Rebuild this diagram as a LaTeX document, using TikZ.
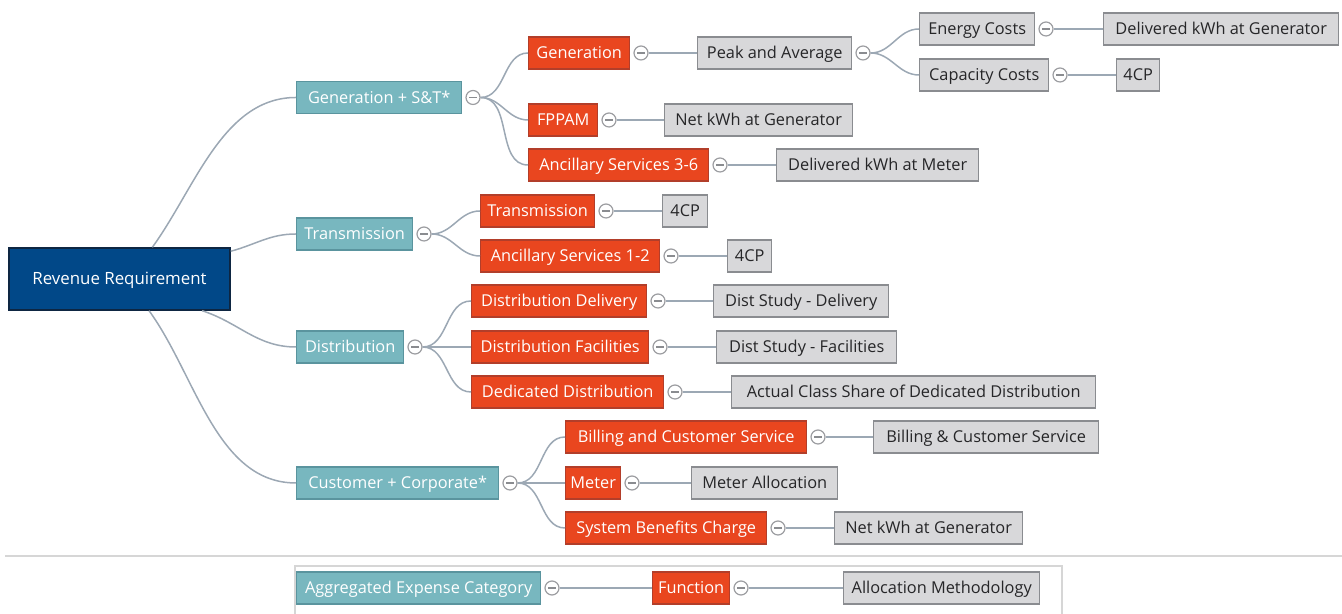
\documentclass[tikz,border=0pt]{standalone}
\usepackage{fontspec}
\setmainfont{Open Sans}
\usetikzlibrary{positioning}

\newlength\pu
\setlength\pu{0.02cm}

\definecolor{rootblue}{RGB}{1,72,136}
\definecolor{rootedge}{RGB}{14,38,66}
\definecolor{tealfill}{RGB}{120,183,191}
\definecolor{tealedge}{RGB}{90,148,158}
\definecolor{redfill}{RGB}{233,70,31}
\definecolor{rededge}{RGB}{178,62,42}
\definecolor{greyfill}{RGB}{216,216,218}
\definecolor{greyedge}{RGB}{138,140,144}
\definecolor{greytext}{RGB}{38,38,40}
\definecolor{linkcol}{RGB}{156,168,180}
\definecolor{sepcol}{RGB}{214,214,214}

\tikzset{
	box/.style={rectangle, anchor=west, minimum height=32\pu, inner xsep=0pt, inner ysep=0pt,
		line width=1.4\pu, text height=7.6pt, text depth=1pt, font=\fontsize{9.3}{11}\selectfont},
	rootbox/.style={box, anchor=center, fill=rootblue, draw=rootedge, text=white,
		minimum width=221\pu, minimum height=62\pu, font=\fontsize{9.6}{11}\selectfont},
	catbox/.style={box, fill=tealfill, draw=tealedge, text=white},
	funbox/.style={box, fill=redfill, draw=rededge, text=white},
	allocbox/.style={box, fill=greyfill, draw=greyedge, text=greytext},
	toggle/.style={circle, draw=greyedge!85, fill=white, line width=1.2\pu, minimum size=14\pu,
		inner sep=0pt, right=3\pu of #1,
		path picture={\draw[greyedge, line width=1.2\pu]
			([xshift=-4\pu]path picture bounding box.center) -- ([xshift=4\pu]path picture bounding box.center);}},
	link/.style={draw=linkcol, line width=1.5\pu},
}

\begin{document}
\begin{tikzpicture}[x=0.02cm, y=0.02cm]

	\path[use as bounding box, clip] (0,0) rectangle (1342,614);

	%root
	\node[rootbox] (rev) at (119.5,335) {Revenue Requirement};

	%expense categories
	\node[catbox, minimum width=165\pu] (gst) at (296,516.5) {Generation + S\&T*};
	\node[catbox, minimum width=116\pu] (trn) at (296,380) {Transmission};
	\node[catbox, minimum width=107\pu] (dst) at (296,267) {Distribution};
	\node[catbox, minimum width=202\pu] (cus) at (296,131) {Customer + Corporate*};

	%functions
	\node[funbox, minimum width=101\pu] (gen) at (528,561) {Generation};
	\node[funbox, minimum width=69\pu] (fpp) at (528,494) {FPPAM};
	\node[funbox, minimum width=180\pu] (anc36) at (528,449) {Ancillary Services 3-6};
	\node[funbox, minimum width=114\pu] (trr) at (480,403) {Transmission};
	\node[funbox, minimum width=179\pu] (anc12) at (480,358) {Ancillary Services 1-2};
	\node[funbox, minimum width=175\pu] (ddl) at (471,313) {Distribution Delivery};
	\node[funbox, minimum width=177\pu] (dfc) at (471,267) {Distribution Facilities};
	\node[funbox, minimum width=192\pu] (ddd) at (471,222) {Dedicated Distribution};
	\node[funbox, minimum width=241\pu] (bcs) at (565,177) {Billing and Customer Service};
	\node[funbox, minimum width=55\pu] (met) at (565,131) {Meter};
	\node[funbox, minimum width=201\pu] (sbc) at (565,86) {System Benefits Charge};

	%allocation methods
	\node[allocbox, minimum width=154\pu] (pav) at (697,561) {Peak and Average};
	\node[allocbox, minimum width=115\pu] (enc) at (919,585) {Energy Costs};
	\node[allocbox, minimum width=235\pu] (dkg) at (1103,585) {Delivered kWh at Generator};
	\node[allocbox, minimum width=129\pu] (cap) at (919,539) {Capacity Costs};
	\node[allocbox, minimum width=43\pu] (cpa) at (1116,539) {4CP};
	\node[allocbox, minimum width=188\pu] (nkg) at (664,494) {Net kWh at Generator};
	\node[allocbox, minimum width=202\pu] (dkm) at (776,449) {Delivered kWh at Meter};
	\node[allocbox, minimum width=45\pu] (cpb) at (662,403) {4CP};
	\node[allocbox, minimum width=44\pu] (cpc) at (727,358) {4CP};
	\node[allocbox, minimum width=175\pu] (dsd) at (713,313) {Dist Study - Delivery};
	\node[allocbox, minimum width=180\pu] (dsf) at (716,267) {Dist Study - Facilities};
	\node[allocbox, minimum width=364\pu] (acs) at (731,222) {Actual Class Share of Dedicated Distribution};
	\node[allocbox, minimum width=225\pu] (bcg) at (873,177) {Billing \& Customer Service};
	\node[allocbox, minimum width=146\pu] (mal) at (691,131) {Meter Allocation};
	\node[allocbox, minimum width=188\pu] (nkh) at (834,86) {Net kWh at Generator};

	%legend
	\draw[sepcol, line width=1.2\pu] (5,58) -- (1342,58);
	\draw[sepcol, line width=1.2\pu] (295,-5) |- (1062,48) -- (1062,-5);
	\node[catbox, minimum width=244\pu] (agg) at (296,26) {Aggregated Expense Category};
	\node[funbox, minimum width=77\pu] (fun) at (652,26) {Function};
	\node[allocbox, minimum width=196\pu] (alm) at (843,26) {Allocation Methodology};

	%collapse buttons
	\foreach \n in {gst,trn,dst,cus,gen,fpp,anc36,trr,anc12,ddl,dfc,ddd,bcs,met,sbc,pav,enc,cap,agg,fun}
		\node[toggle=\n] (\n-t) {};

	%root links
	\draw[link] (rev.44) to[out=54,in=180,looseness=0.9] (gst.west);
	\draw[link] (rev.14) to[out=15,in=180] (trn.west);
	\draw[link] (rev.-21) to[out=-18,in=180] (dst.west);
	\draw[link] (rev.-47) to[out=-54,in=180,looseness=0.9] (cus.west);

	%branch links
	\foreach \a/\b in {gst/gen,gst/fpp,gst/anc36,trn/trr,trn/anc12,dst/ddl,dst/dfc,dst/ddd,
			cus/bcs,cus/met,cus/sbc,pav/enc,pav/cap}
		\draw[link] (\a-t.east) to[out=0,in=180] (\b.west);

	%straight links
	\foreach \a/\b in {gen/pav,enc/dkg,cap/cpa,fpp/nkg,anc36/dkm,trr/cpb,anc12/cpc,ddl/dsd,dfc/dsf,
			ddd/acs,bcs/bcg,met/mal,sbc/nkh,agg/fun,fun/alm}
		\draw[link] (\a-t.east) -- (\b.west);

\end{tikzpicture}
\end{document}
